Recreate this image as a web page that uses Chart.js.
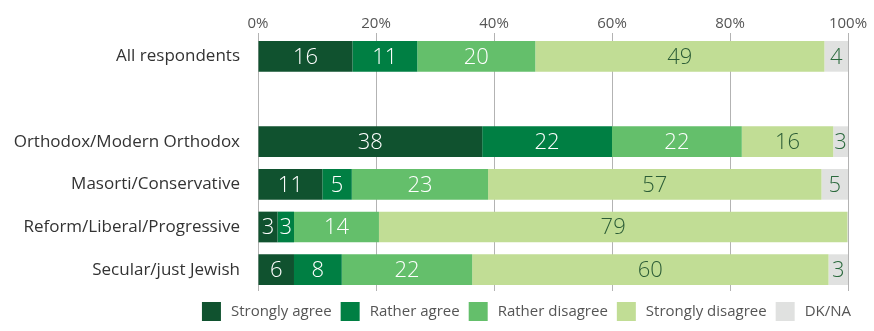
<!DOCTYPE html>
<html>
<head>
<meta charset="utf-8">
<script src="https://cdn.jsdelivr.net/npm/chart.js@4/dist/chart.umd.min.js"></script>
<style>
html,body{margin:0;padding:0;background:#fff;}
#wrap{width:874px;height:331px;}
</style>
</head>
<body>
<div id="wrap"><canvas id="c" width="874" height="331"></canvas></div>
<script>
const categories = ["All respondents", "", "Orthodox/Modern Orthodox", "Masorti/Conservative", "Reform/Liberal/Progressive", "Secular/just Jewish"];
const seriesNames = ["Strongly agree", "Rather agree", "Rather disagree", "Strongly disagree", "DK/NA"];
const stronglyAgree    = [16, null, 38,   10.9, 3.3,  6.1];
const ratherAgree      = [11, null, 22,   5,    2.8,  8.1];
const ratherDisagree   = [20, null, 22,   23.1, 14.4, 22.1];
const stronglyDisagree = [49, null, 15.5, 56.5, 79.4, 60.4];
const dkNa             = [4,  null, 2.5,  4.5,  0.1,  3.3];
const tickValues = [0, 20, 40, 60, 80, 100];

const colors = ["#10522f", "#007f43", "#64bf6b", "#c1dd95", "#e0e1e0"];
const labelColors = ["#ffffff", "#ffffff", "#ffffff", "#2b5c36", "#2b6a3d"];
const seriesData = [stronglyAgree, ratherAgree, ratherDisagree, stronglyDisagree, dkNa];

const FONT = "'Open Sans', 'Noto Sans', sans-serif";

const labelPlugin = {
  id: 'segLabels',
  afterDatasetsDraw(chart) {
    const ctx = chart.ctx;
    ctx.save();
    ctx.font = "300 22px " + FONT;
    ctx.textAlign = 'center';
    ctx.textBaseline = 'middle';
    chart.data.datasets.forEach((ds, di) => {
      const meta = chart.getDatasetMeta(di);
      meta.data.forEach((el, i) => {
        const v = ds.data[i];
        if (v == null || v < 1) return;
        const cx = (el.x + el.base) / 2;
        ctx.fillStyle = labelColors[di];
        ctx.fillText(String(Math.round(v)), cx, el.y + 1);
      });
    });
    ctx.restore();
  }
};

const legendFit = {
  id: 'legendFit',
  beforeInit(chart) {
    const lg = chart.legend;
    const orig = lg.fit;
    lg.fit = function () { orig.call(this); this.height = 40; };
  },
  afterLayout(chart) {
    const lg = chart.legend;
    lg.left += 12; lg.right += 12;
    lg.top += 2; lg.bottom += 2;
  }
};

new Chart(document.getElementById('c'), {
  type: 'bar',
  data: {
    labels: categories,
    datasets: seriesNames.map((n, i) => ({
      label: n,
      data: seriesData[i],
      backgroundColor: colors[i],
      borderWidth: 0,
      barPercentage: 0.72,
      categoryPercentage: 1.0
    }))
  },
  options: {
    indexAxis: 'y',
    responsive: false,
    animation: false,
    devicePixelRatio: 1,
    layout: { padding: { top: 15, right: 26, left: 0, bottom: 0 } },
    scales: {
      x: {
        position: 'top',
        stacked: true,
        min: 0, max: 100,
        afterBuildTicks(scale) { scale.ticks = tickValues.map(v => ({ value: v })); },
        ticks: {
          callback: v => v + '%',
          color: '#555555',
          font: { family: FONT, size: 15 },
          padding: 0,
          maxRotation: 0
        },
        grid: { color: '#b3b3b3', lineWidth: 1, tickLength: 2, drawTicks: true },
        border: { display: false }
      },
      y: {
        stacked: true,
        grid: { display: false, drawTicks: false },
        border: { display: false },
        afterFit(scale) { scale.width = 258; },
        ticks: {
          color: '#333333',
          font: { family: FONT, size: 17 },
          padding: 18
        }
      }
    },
    plugins: {
      legend: {
        position: 'bottom',
        align: 'end',
        labels: {
          boxWidth: 19,
          boxHeight: 19,
          color: '#555555',
          font: { family: FONT, size: 15 },
          padding: 9,
          generateLabels(chart) {
            const items = Chart.defaults.plugins.legend.labels.generateLabels(chart);
            items.forEach(it => { it.text = '\u2009' + it.text; });
            return items;
          }
        }
      },
      tooltip: { enabled: false }
    }
  },
  plugins: [labelPlugin, legendFit]
});
</script>
</body>
</html>
